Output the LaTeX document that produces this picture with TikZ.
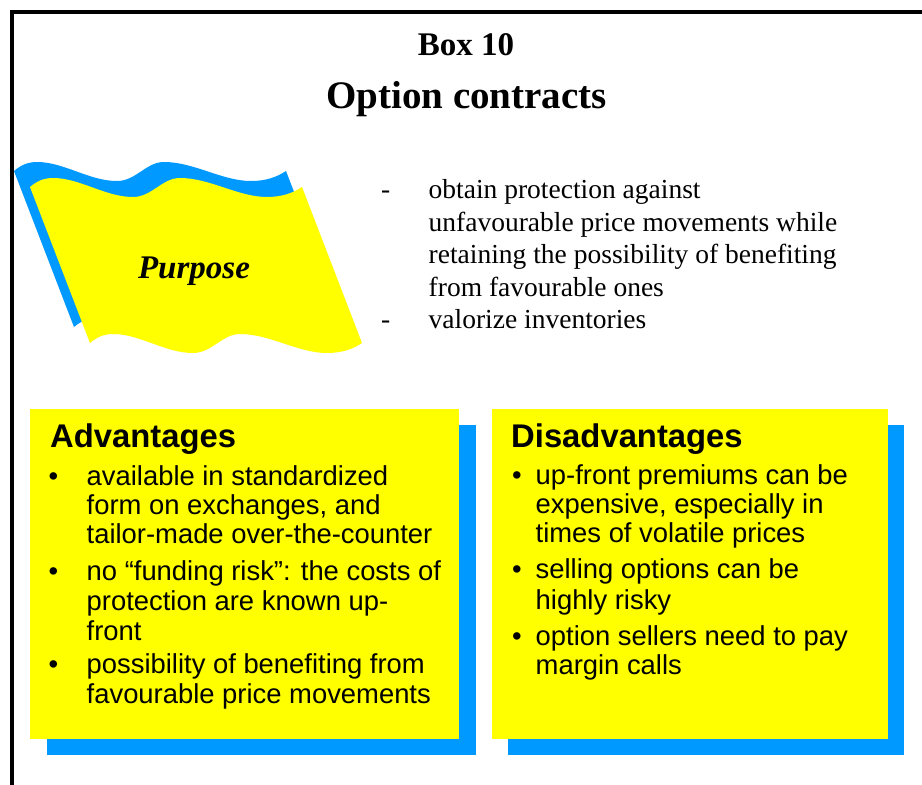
\documentclass[tikz,border=0pt]{standalone}
\usepackage{fontspec}
\setmainfont{Liberation Serif}
\newfontfamily\arialfont{Liberation Sans}
\definecolor{flagyellow}{RGB}{255,255,0}
\definecolor{shadowblue}{RGB}{0,153,255}
\tikzset{
  flagshape/.pic={
    \path[pic actions] (30,187) .. controls (37,181) and (44,178) .. (53,178)
      .. controls (80,178) and (105,197) .. (133,197)
      .. controls (152,197) and (162,178) .. (180,178)
      .. controls (210,178) and (238,197) .. (267,197)
      .. controls (282,197) and (293,193) .. (302,187)
      -- (362,343)
      .. controls (353,349) and (342,353) .. (327,353)
      .. controls (298,353) and (270,334) .. (240,334)
      .. controls (222,334) and (212,353) .. (193,353)
      .. controls (165,353) and (140,334) .. (113,334)
      .. controls (104,334) and (97,337) .. (90,343)
      -- cycle;
  },
  yellowbox/.style={fill=flagyellow, draw=none, inner sep=0pt, anchor=north west},
  bluebox/.style={fill=shadowblue, draw=none, inner sep=0pt, anchor=north west},
  boxtext/.style={anchor=base west, inner sep=0pt, font=\arialfont\fontsize{27.4}{30}\selectfont},
  boxhead/.style={anchor=base west, inner sep=0pt, font=\arialfont\bfseries\fontsize{32.8}{36}\selectfont},
  listtext/.style={anchor=base west, inner sep=0pt, font=\fontsize{27.5}{32}\selectfont},
  titletext/.style={anchor=base, inner sep=0pt, font=\bfseries\fontsize{#1}{#1}\selectfont},
}
\begin{document}
\begin{tikzpicture}[x=1pt, y=-1pt]
\useasboundingbox (0,0) rectangle (922,785);
\fill[white] (0,0) rectangle (922,785);
% frame (top and left)
\fill[black] (10,10) rectangle (922,14);
\fill[black] (10,10) rectangle (14,785);

% titles
\node[titletext=33] (boxno) at (466,55) {Box 10};
\node[titletext=39] (title) at (466.5,108) {Option contracts};

% flag
\pic[fill=shadowblue] at (-16,-16) {flagshape};
\pic[fill=flagyellow] at (0,0) {flagshape};
\node[anchor=base, inner sep=0pt, font=\bfseries\itshape\fontsize{33}{34}\selectfont] (purpose) at (194,278) {Purpose};

% purpose list
\node[listtext] (d1) at (381,198.5) {-};
\node[listtext] (p1) at (428.5,198.5) {obtain protection against};
\node[listtext] (p2) at (428.5,231) {unfavourable price movements while};
\node[listtext] (p3) at (428.5,263.5) {retaining the possibility of benefiting};
\node[listtext] (p4) at (428.5,296) {from favourable ones};
\node[listtext] (d2) at (381,328.5) {-};
\node[listtext] (p5) at (428.5,328.5) {valorize inventories};

% Advantages box
\node[bluebox, minimum width=429pt, minimum height=330pt] (advshadow) at (47,425) {};
\node[yellowbox, minimum width=429pt, minimum height=330pt] (adv) at (30,409) {};
\node[boxhead] (advhead) at (50,447.7) {Advantages};
\node[boxtext] (ab1) at (48.5,485) {•};
\node[boxtext] (a1) at (86.5,485) {available in standardized};
\node[boxtext] (a2) at (86.5,514.3) {form on exchanges, and};
\node[boxtext] (a3) at (86.5,543.3) {tailor-made over-the-counter};
\node[boxtext] (ab2) at (48.5,580) {•};
\node[boxtext] (a4) at (86.5,580) {no “funding risk”: the costs of};
\node[boxtext] (a5) at (86.5,610.7) {protection are known up-};
\node[boxtext] (a6) at (86.5,640) {front};
\node[boxtext] (ab3) at (48.5,673.3) {•};
\node[boxtext] (a7) at (86.5,673.3) {possibility of benefiting from};
\node[boxtext] (a8) at (86.5,703.3) {favourable price movements};

% Disadvantages box
\node[bluebox, minimum width=396pt, minimum height=330pt] (disshadow) at (508,425) {};
\node[yellowbox, minimum width=396pt, minimum height=330pt] (dis) at (492,409) {};
\node[boxhead] (dishead) at (511,447.7) {Disadvantages};
\node[boxtext] (db1) at (512,484.3) {•};
\node[boxtext] (b1) at (535.5,484.3) {up-front premiums can be};
\node[boxtext] (b2) at (535.5,513) {expensive, especially in};
\node[boxtext] (b3) at (535.5,542.7) {times of volatile prices};
\node[boxtext] (db2) at (512,578.3) {•};
\node[boxtext] (b4) at (535.5,578.3) {selling options can be};
\node[boxtext] (b5) at (535.5,609.3) {highly risky};
\node[boxtext] (db3) at (512,645) {•};
\node[boxtext] (b6) at (535.5,645) {option sellers need to pay};
\node[boxtext] (b7) at (535.5,674) {margin calls};
\end{tikzpicture}
\end{document}
